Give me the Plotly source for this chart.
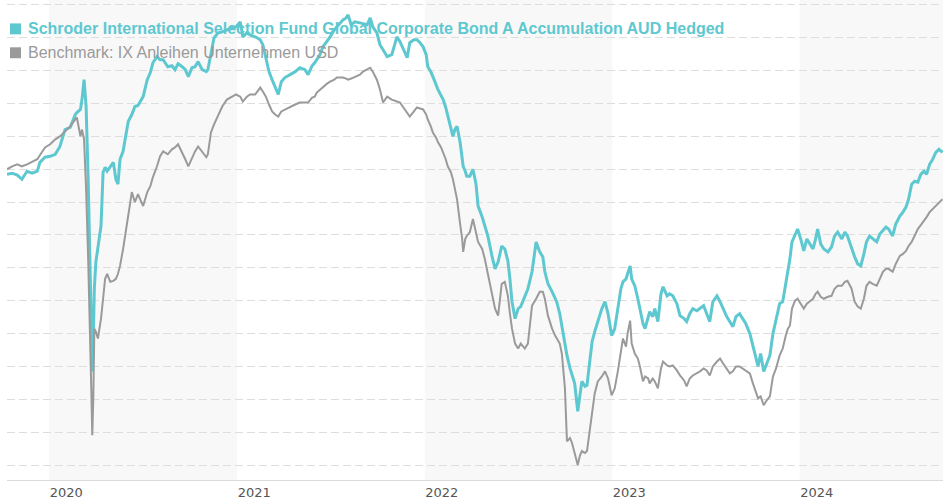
import plotly.graph_objects as go

# Observation dates (shared by both series)
dates = [
    "2019-10-11", "2019-10-21", "2019-10-31", "2019-11-09", "2019-11-19", "2019-11-29",
    "2019-12-09", "2019-12-14", "2019-12-24", "2020-01-03", "2020-01-13", "2020-01-22",
    "2020-02-01", "2020-02-11", "2020-02-21", "2020-02-24", "2020-03-02", "2020-03-05",
    "2020-03-09", "2020-03-13", "2020-03-17", "2020-03-21", "2020-03-23", "2020-03-25",
    "2020-03-27", "2020-03-29", "2020-04-01", "2020-04-05", "2020-04-11", "2020-04-15",
    "2020-04-19", "2020-04-23", "2020-04-29", "2020-05-05", "2020-05-10", "2020-05-14",
    "2020-05-18", "2020-05-24", "2020-05-28", "2020-06-03", "2020-06-10", "2020-06-16",
    "2020-06-22", "2020-07-02", "2020-07-10", "2020-07-16", "2020-07-21", "2020-07-29",
    "2020-08-04", "2020-08-10", "2020-08-19", "2020-08-27", "2020-09-02", "2020-09-08",
    "2020-09-16", "2020-09-22", "2020-09-28", "2020-10-05", "2020-10-11", "2020-10-17",
    "2020-10-25", "2020-11-02", "2020-11-05", "2020-11-11", "2020-11-17", "2020-11-25",
    "2020-12-03", "2020-12-12", "2020-12-22", "2020-12-30", "2021-01-07", "2021-01-12",
    "2021-01-20", "2021-01-26", "2021-02-05", "2021-02-15", "2021-02-20", "2021-02-26",
    "2021-03-04", "2021-03-10", "2021-03-16", "2021-03-22", "2021-03-28", "2021-04-04",
    "2021-04-14", "2021-04-24", "2021-05-03", "2021-05-13", "2021-05-19", "2021-05-27",
    "2021-06-01", "2021-06-05", "2021-06-11", "2021-06-17", "2021-06-25", "2021-07-01",
    "2021-07-09", "2021-07-14", "2021-07-20", "2021-07-26", "2021-08-01", "2021-08-05",
    "2021-08-11", "2021-08-18", "2021-08-28", "2021-09-03", "2021-09-11", "2021-09-17",
    "2021-09-22", "2021-09-30", "2021-10-06", "2021-10-12", "2021-10-20", "2021-10-29",
    "2021-11-08", "2021-11-14", "2021-11-18", "2021-11-28", "2021-12-03", "2021-12-11",
    "2021-12-17", "2021-12-23", "2021-12-29", "2022-01-04", "2022-01-07", "2022-01-13",
    "2022-01-17", "2022-01-23", "2022-01-27", "2022-02-02", "2022-02-06", "2022-02-11",
    "2022-02-15", "2022-02-21", "2022-02-25", "2022-03-01", "2022-03-05", "2022-03-11",
    "2022-03-15", "2022-03-17", "2022-03-21", "2022-03-24", "2022-03-30", "2022-04-05",
    "2022-04-11", "2022-04-15", "2022-04-23", "2022-04-28", "2022-05-04", "2022-05-12",
    "2022-05-18", "2022-05-24", "2022-05-31", "2022-06-06", "2022-06-12", "2022-06-16",
    "2022-06-20", "2022-06-26", "2022-07-02", "2022-07-07", "2022-07-15", "2022-07-21",
    "2022-07-29", "2022-08-06", "2022-08-13", "2022-08-19", "2022-08-23", "2022-08-29",
    "2022-09-06", "2022-09-12", "2022-09-15", "2022-09-21", "2022-09-25", "2022-10-01",
    "2022-10-05", "2022-10-11", "2022-10-15", "2022-10-20", "2022-10-26", "2022-10-30",
    "2022-11-03", "2022-11-09", "2022-11-13", "2022-11-19", "2022-11-23", "2022-11-28",
    "2022-12-04", "2022-12-12", "2022-12-18", "2022-12-24", "2022-12-31", "2023-01-06",
    "2023-01-12", "2023-01-18", "2023-01-22", "2023-01-28", "2023-01-31", "2023-02-05",
    "2023-02-08", "2023-02-14", "2023-02-20", "2023-02-24", "2023-03-02", "2023-03-06",
    "2023-03-12", "2023-03-15", "2023-03-21", "2023-03-25", "2023-03-31", "2023-04-06",
    "2023-04-10", "2023-04-18", "2023-04-23", "2023-04-29", "2023-05-07", "2023-05-13",
    "2023-05-21", "2023-05-26", "2023-06-01", "2023-06-07", "2023-06-15", "2023-06-21",
    "2023-06-28", "2023-07-04", "2023-07-10", "2023-07-16", "2023-07-24", "2023-07-30",
    "2023-08-05", "2023-08-12", "2023-08-18", "2023-08-24", "2023-08-30", "2023-09-06",
    "2023-09-12", "2023-09-18", "2023-09-26", "2023-10-02", "2023-10-08", "2023-10-12",
    "2023-10-17", "2023-10-23", "2023-10-29", "2023-11-04", "2023-11-10", "2023-11-16",
    "2023-11-23", "2023-11-29", "2023-12-05", "2023-12-09", "2023-12-13", "2023-12-17",
    "2023-12-23", "2023-12-28", "2024-01-03", "2024-01-09", "2024-01-15", "2024-01-21",
    "2024-01-27", "2024-02-01", "2024-02-05", "2024-02-11", "2024-02-17", "2024-02-25",
    "2024-03-03", "2024-03-09", "2024-03-15", "2024-03-23", "2024-03-29", "2024-04-03",
    "2024-04-11", "2024-04-17", "2024-04-23", "2024-04-29", "2024-05-05", "2024-05-10",
    "2024-05-16", "2024-05-22", "2024-05-30", "2024-06-05", "2024-06-11", "2024-06-17",
    "2024-06-22", "2024-06-30", "2024-07-06", "2024-07-14", "2024-07-20", "2024-07-26",
    "2024-07-31", "2024-08-06", "2024-08-12", "2024-08-18", "2024-08-24", "2024-08-30",
    "2024-09-04", "2024-09-10", "2024-09-16", "2024-09-22", "2024-09-28", "2024-10-05",
]

# Fund performance (%)
fund = [
    -0.30, -0.24, -0.36, -0.61, -0.12, -0.24,
    -0.12, 0.42, 0.73, 0.79, 0.91, 1.39,
    2.42, 2.55, 3.33, 3.45, 3.64, 4.24,
    5.45, 3.82, -0.61, -6.24, -9.70, -12.30,
    -10.30, -7.27, -5.64, -4.85, -3.45, -0.18,
    0.12, -0.12, 0.18, 0.42, -0.61, -0.91,
    0.61, 1.09, 1.82, 2.91, 3.33, 3.82,
    3.88, 4.42, 5.45, 5.88, 6.48, 6.85,
    6.67, 6.67, 6.24, 6.30, 6.06, 6.42,
    6.24, 6.06, 5.64, 6.18, 6.24, 6.55,
    6.06, 5.94, 6.06, 7.09, 8.00, 8.30,
    8.36, 8.48, 8.61, 8.67, 8.97, 8.06,
    8.30, 8.18, 8.06, 7.88, 7.58, 6.67,
    5.94, 5.45, 5.03, 4.55, 5.33, 5.58,
    5.76, 5.94, 6.18, 6.06, 5.76, 6.30,
    6.48, 6.67, 6.97, 7.45, 7.76, 8.06,
    8.48, 8.67, 8.85, 9.09, 9.21, 9.39,
    8.79, 8.97, 8.91, 8.85, 8.79, 9.21,
    8.67, 8.30, 7.58, 7.27, 6.85, 6.97,
    8.06, 7.76, 7.45, 6.79, 7.70, 7.88,
    7.88, 7.70, 7.45, 6.97, 6.24, 5.94,
    5.64, 5.15, 4.85, 4.48, 4.24, 3.76,
    3.21, 2.55, 2.00, 2.42, 2.61, 1.64,
    0.61, 0.18, -0.12, -0.42, -0.42, 0.00,
    -0.91, -2.24, -2.91, -3.45, -4.06, -5.27,
    -6.06, -5.64, -4.67, -4.85, -5.58, -6.67,
    -8.06, -9.09, -8.48, -8.36, -7.70, -7.27,
    -6.24, -4.42, -5.03, -5.33, -6.24, -6.97,
    -7.45, -7.88, -8.06, -8.79, -9.52, -10.61,
    -11.33, -12.12, -12.55, -13.03, -14.73, -13.64,
    -12.91, -13.21, -13.15, -11.52, -10.48, -9.88,
    -9.27, -8.48, -8.06, -8.79, -10.12, -9.70,
    -8.48, -7.27, -6.85, -6.67, -6.36, -5.88,
    -6.67, -7.09, -7.88, -8.48, -9.39, -9.70,
    -8.97, -8.67, -8.97, -8.48, -9.27, -7.58,
    -7.15, -7.70, -7.58, -7.70, -8.18, -8.91,
    -9.09, -9.27, -8.79, -8.48, -8.61, -8.48,
    -8.30, -8.79, -9.27, -8.06, -7.70, -8.06,
    -8.48, -8.97, -9.27, -9.58, -8.97, -8.79,
    -9.09, -9.39, -10.00, -10.73, -11.52, -12.00,
    -11.21, -12.30, -11.82, -11.33, -10.00, -9.09,
    -8.18, -8.06, -6.97, -6.24, -5.45, -4.42,
    -3.94, -3.64, -4.24, -4.97, -4.24, -4.55,
    -4.85, -4.24, -3.64, -4.55, -4.85, -5.03,
    -4.73, -4.06, -3.82, -4.24, -3.82, -4.06,
    -4.85, -5.33, -5.76, -5.88, -5.15, -4.42,
    -4.06, -4.24, -4.42, -3.94, -3.76, -3.52,
    -3.64, -4.06, -3.33, -2.85, -2.61, -2.30,
    -1.82, -0.91, -0.73, -0.79, -0.30, -0.12,
    -0.30, 0.30, 0.61, 1.03, 1.21, 1.03,
]

# Benchmark performance (%)
benchmark = [
    0.00, 0.18, 0.30, 0.18, 0.30, 0.48,
    0.61, 0.85, 1.33, 1.52, 1.82, 2.00,
    2.30, 2.61, 3.03, 3.15, 2.00, 2.42,
    1.82, -1.21, -5.45, -9.70, -13.33, -16.18,
    -13.94, -9.70, -9.88, -10.30, -9.09, -7.88,
    -6.67, -6.36, -6.85, -6.79, -6.67, -6.36,
    -5.88, -4.85, -4.06, -2.61, -1.39, -2.00,
    -1.52, -2.24, -1.39, -1.03, -0.48, 0.18,
    0.79, 1.09, 0.91, 1.21, 1.33, 1.52,
    1.03, 0.61, 0.18, 0.73, 1.09, 1.39,
    1.03, 0.73, 0.91, 2.24, 2.73, 3.33,
    3.82, 4.24, 4.42, 4.55, 4.42, 4.12,
    4.42, 4.55, 4.55, 4.97, 4.73, 4.42,
    3.94, 3.52, 3.33, 3.21, 3.52, 3.64,
    3.82, 3.94, 4.06, 4.06, 4.06, 4.36,
    4.42, 4.67, 4.85, 5.03, 5.21, 5.33,
    5.45, 5.58, 5.58, 5.58, 5.52, 5.45,
    5.52, 5.64, 5.76, 5.94, 6.06, 6.18,
    5.94, 5.45, 4.85, 4.06, 4.42, 4.24,
    4.12, 4.06, 3.88, 3.45, 3.21, 3.52,
    3.76, 3.70, 3.64, 3.33, 3.03, 2.61,
    2.24, 1.94, 1.64, 1.33, 1.03, 0.61,
    0.18, -0.18, -0.61, -1.21, -1.82, -3.33,
    -4.24, -5.03, -4.24, -4.06, -3.82, -3.03,
    -3.76, -4.42, -4.85, -5.45, -6.36, -7.70,
    -8.48, -8.91, -6.97, -6.85, -7.70, -8.79,
    -9.70, -10.61, -10.91, -10.61, -10.91, -10.61,
    -8.30, -7.88, -7.45, -7.45, -7.88, -8.91,
    -9.70, -10.12, -10.30, -10.61, -11.21, -13.30,
    -16.55, -16.36, -16.67, -17.27, -18.00, -17.45,
    -17.15, -17.27, -17.15, -15.76, -14.73, -13.64,
    -12.91, -12.61, -12.30, -12.73, -13.76, -13.33,
    -12.30, -10.91, -10.30, -10.79, -10.00, -9.21,
    -10.61, -11.21, -11.52, -12.00, -12.91, -12.61,
    -12.73, -13.03, -12.73, -12.91, -13.33, -12.12,
    -11.70, -11.94, -12.00, -11.94, -12.24, -12.55,
    -12.85, -13.21, -12.73, -12.55, -12.42, -12.30,
    -12.12, -12.24, -12.55, -12.00, -11.70, -11.52,
    -11.82, -12.12, -12.42, -12.30, -12.00, -12.00,
    -12.12, -12.24, -12.42, -13.03, -13.52, -13.94,
    -13.82, -14.36, -14.06, -13.82, -12.61, -12.12,
    -11.33, -10.91, -10.12, -9.70, -9.52, -8.48,
    -8.00, -7.88, -8.18, -8.48, -8.18, -8.00,
    -7.88, -7.58, -7.45, -7.76, -7.88, -7.76,
    -7.70, -7.27, -7.09, -7.09, -6.85, -6.79,
    -7.27, -8.06, -8.36, -8.48, -7.88, -7.09,
    -6.85, -6.97, -7.09, -6.67, -6.24, -6.06,
    -6.06, -6.24, -5.76, -5.27, -5.15, -4.97,
    -4.67, -4.42, -4.06, -3.64, -3.39, -3.15,
    -2.91, -2.61, -2.42, -2.24, -2.00, -1.82,
]

fund_name = "Schroder International Selection Fund Global Corporate Bond A Accumulation AUD Hedged"
benchmark_name = "Benchmark: IX Anleihen Unternehmen USD"

year_ticks = ["2020-01-01", "2021-01-01", "2022-01-01", "2023-01-01", "2024-01-01"]
year_labels = ["2020", "2021", "2022", "2023", "2024"]
shaded_years = [("2020-01-01", "2021-01-01"),
                ("2022-01-01", "2023-01-01"),
                ("2024-01-01", "2024-10-06")]

TEAL = "#5ec8d0"
GREY = "#9a9a9a"

W, H = 943, 500
M_L, M_R, M_T, M_B = 7, 0, 0, 18
PW, PH = W - M_L - M_R, H - M_T - M_B


def px_x(x):
    return (x - M_L) / PW


def px_y(y):
    return 1 - (y - M_T) / PH


fig = go.Figure()
fig.add_trace(go.Scatter(x=dates, y=fund, mode="lines", name=fund_name,
                         line=dict(color=TEAL, width=3)))
fig.add_trace(go.Scatter(x=dates, y=benchmark, mode="lines", name=benchmark_name,
                         line=dict(color=GREY, width=2)))

shapes = []
for x0, x1 in shaded_years:
    shapes.append(dict(type="rect", xref="x", yref="paper", x0=x0, x1=x1, y0=0, y1=1,
                       fillcolor="#f8f8f8", line=dict(width=0), layer="below"))

# legend markers and labels
legend_rows = [(fund_name, TEAL, True, 29), (benchmark_name, GREY, False, 53)]
annotations = []
for text, color, bold, yc in legend_rows:
    shapes.append(dict(type="rect", xref="paper", yref="paper",
                       x0=px_x(10), x1=px_x(21), y0=px_y(yc + 5.5), y1=px_y(yc - 5.5),
                       fillcolor=color, line=dict(width=0), layer="above"))
    annotations.append(dict(xref="paper", yref="paper", x=px_x(26), y=px_y(yc),
                            xanchor="left", yanchor="middle", showarrow=False,
                            text=f"<b>{text}</b>" if bold else text,
                            font=dict(family="Liberation Sans, Arial, sans-serif",
                                      size=16, color=color)))

fig.update_layout(
    width=W, height=H,
    margin=dict(l=M_L, r=M_R, t=M_T, b=M_B),
    paper_bgcolor="white", plot_bgcolor="white",
    showlegend=False,
    shapes=shapes,
    annotations=annotations,
    xaxis=dict(type="date", range=["2019-10-11", "2024-10-06"],
               tickvals=year_ticks, ticktext=year_labels,
               ticklabelposition="outside right",
               ticks="", showgrid=False, zeroline=False,
               showline=True, linecolor="#dcdcdc", linewidth=1,
               tickfont=dict(family="DejaVu Sans, Verdana, sans-serif", size=13, color="#555555")),
    yaxis=dict(range=[-18.91, 10.30], tick0=0, dtick=2,
               showticklabels=False, ticks="", zeroline=False, showline=False,
               showgrid=True, gridcolor="#dedede", gridwidth=1, griddash="8px,4px"),
)

fig.write_html("out.html")
